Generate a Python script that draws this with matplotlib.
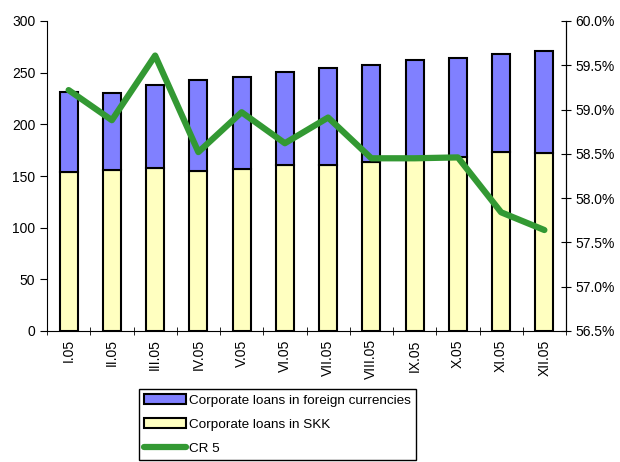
import numpy as np
import matplotlib as mpl
mpl.use('Agg')
from matplotlib import pyplot as plt
from matplotlib.ticker import FuncFormatter

plt.rcParams['font.family'] = ['Liberation Sans', 'DejaVu Sans']

months = ['I.05', 'II.05', 'III.05', 'IV.05', 'V.05', 'VI.05',
          'VII.05', 'VIII.05', 'IX.05', 'X.05', 'XI.05', 'XII.05']
# loans in SKK (bottom part of the bars)
loans_skk = [154, 155.5, 157.7, 154.8, 156.8, 160.6, 161, 164, 166, 168.5, 173, 172.5]
# loans in foreign currencies (top part)
loans_fx = [77.6, 75.1, 80.3, 88.1, 89.0, 90.4, 93.8, 93.4, 96.3, 96.1, 95.0, 98.8]
# CR 5 share in %
cr5 = [59.22, 58.88, 59.61, 58.52, 58.97, 58.62, 58.91, 58.45, 58.45, 58.46, 57.84, 57.64]

fig = plt.figure(figsize=(6.2, 4.62), dpi=100)
ax = fig.add_axes([47 / 620, 1 - 331 / 462, (566 - 47) / 620, 310 / 462])
ax2 = ax.twinx()

x = np.arange(len(months))
ax.bar(x, loans_skk, width=0.42, color='#FFFFC0', edgecolor='black', lw=1.5,
       label='Corporate loans in SKK', zorder=2)
ax.bar(x, loans_fx, width=0.42, bottom=loans_skk, color='#8080FF', edgecolor='black',
       lw=1.5, label='Corporate loans in foreign currencies', zorder=2)
ax2.plot(x, cr5, color='#339933', lw=4.5, solid_capstyle='round', label='CR 5')

ax.set_xlim(-0.5, len(months) - 0.5)
ax.set_ylim(0, 300)
ax.set_yticks(range(0, 301, 50))
ax.set_xticks(x)
ax.set_xticklabels(months, rotation=90)
ax.set_xticks(np.arange(-0.5, len(months), 1), minor=True)
ax.tick_params(axis='x', which='major', length=0, pad=6)
ax.tick_params(axis='x', which='minor', length=6, direction='inout')
ax.tick_params(axis='y', length=5, direction='out', labelsize=10)
ax.tick_params(axis='x', labelsize=10)

ax2.set_ylim(56.5, 60.0)
ax2.set_yticks(np.arange(56.5, 60.01, 0.5))
ax2.yaxis.set_major_formatter(FuncFormatter(lambda v, p: '%.1f%%' % v))
ax2.tick_params(axis='y', length=7, direction='inout', labelsize=10)

for a in (ax, ax2):
    a.spines['top'].set_visible(False)
ax2.spines['left'].set_visible(False)
ax2.spines['bottom'].set_visible(False)

h1, l1 = ax.get_legend_handles_labels()
h2, l2 = ax2.get_legend_handles_labels()
leg = fig.legend([h1[1], h1[0], h2[0]], [l1[1], l1[0], l2[0]],
                 loc='upper left', bbox_to_anchor=(139 / 620, 1 - 389 / 462),
                 prop={'size': 9.7}, frameon=True, fancybox=False, framealpha=1,
                 edgecolor='black', handlelength=3.1, handletextpad=0.2,
                 borderaxespad=0, labelspacing=0.85, borderpad=0.4)
leg.get_frame().set_linewidth(1.0)

fig.savefig('out.png', dpi=100)
